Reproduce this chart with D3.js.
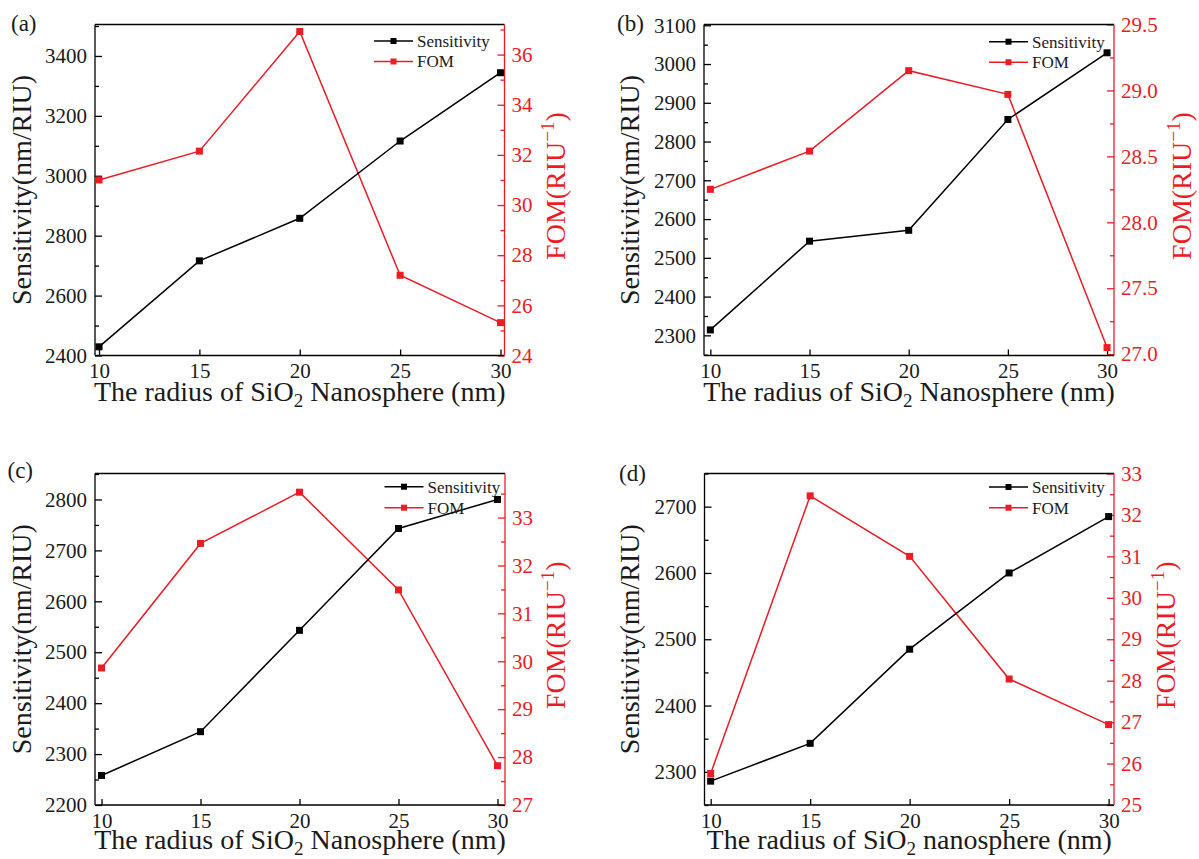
<!DOCTYPE html>
<html>
<head>
<meta charset="utf-8">
<script src="https://cdn.jsdelivr.net/npm/d3@7"></script>
<style>
  html, body { margin: 0; padding: 0; background: #fff; }
  svg { display: block; }
  text { font-family: "Liberation Serif", "Times New Roman", serif; }
</style>
</head>
<body>
<svg id="chart" width="1199" height="859"></svg>
<script>
// ---------- data ----------
const radius = [10, 15, 20, 25, 30];
const xTicks = [10, 15, 20, 25, 30];

const sensA = [2429, 2716, 2858, 3116, 3344];
const fomA  = [31.0, 32.15, 36.92, 27.2, 25.31];
const sensB = [2314, 2543, 2571, 2857, 3029];
const fomB  = [28.25, 28.54, 29.15, 28.97, 27.05];
const sensC = [2258, 2344, 2543, 2743, 2800];
const fomC  = [29.86, 32.46, 33.53, 31.49, 27.82];
const sensD = [2286, 2343, 2485, 2600, 2685];
const fomD  = [25.76, 32.46, 31.0, 28.04, 26.94];

const sensTicksA = [2400, 2600, 2800, 3000, 3200, 3400];
const fomTicksA  = [24, 26, 28, 30, 32, 34, 36];
const sensTicksB = [2300, 2400, 2500, 2600, 2700, 2800, 2900, 3000, 3100];
const fomTicksB  = [27.0, 27.5, 28.0, 28.5, 29.0, 29.5];
const sensTicksC = [2200, 2300, 2400, 2500, 2600, 2700, 2800];
const fomTicksC  = [27, 28, 29, 30, 31, 32, 33];
const sensTicksD = [2300, 2400, 2500, 2600, 2700];
const fomTicksD  = [25, 26, 27, 28, 29, 30, 31, 32, 33];

const panelLabels = ["(a)", "(b)", "(c)", "(d)"];
const seriesNames = ["Sensitivity", "FOM"];
const yTitleLeft = "Sensitivity(nm/RIU)";
const xTitleWords = [["The radius of SiO", "2", " Nanosphere (nm)"],
                     ["The radius of SiO", "2", " Nanosphere (nm)"],
                     ["The radius of SiO", "2", " Nanosphere (nm)"],
                     ["The radius of SiO", "2", " nanosphere (nm)"]];

// ---------- layout / style ----------
const RED = "#ec1c24";
const BLACK = "#000";
const TXT = "#1a1a1a";
const FONT = "Liberation Serif";

const panels = [
  { box: {l: 95,  r: 504.5, t: 24.5,  b: 355.5}, xDom: [9.8, 30.2],
    sens: sensA, fom: fomA, sDom: [2400, 3505], fDom: [24, 37.2],
    sTicks: sensTicksA, sStep: 100, fTicks: fomTicksA, fStep: 1, fFmt: d3.format("d"),
    leg: {x: 374, y: 41, len: 39, gap: 20.5}, lbl: {x: 11, y: 31},
    lt: 22, rt: 556, xt: 401 },
  { box: {l: 704, r: 1114, t: 24.5,  b: 355.5}, xDom: [9.68, 30.35],
    sens: sensB, fom: fomB, sDom: [2248, 3102], fDom: [26.99, 29.5],
    sTicks: sensTicksB, sStep: 50, fTicks: fomTicksB, fStep: 0.25, fFmt: d3.format(".1f"),
    leg: {x: 989, y: 41.7, len: 39, gap: 20.5}, lbl: {x: 617, y: 31},
    lt: 630, rt: 1182, xt: 401 },
  { box: {l: 95,  r: 505, t: 473.5, b: 805}, xDom: [9.67, 30.38],
    sens: sensC, fom: fomC, sDom: [2200, 2851], fDom: [27, 33.92],
    sTicks: sensTicksC, sStep: 50, fTicks: fomTicksC, fStep: 0.5, fFmt: d3.format("d"),
    leg: {x: 384.5, y: 486.7, len: 39, gap: 21}, lbl: {x: 7.5, y: 478},
    lt: 22, rt: 556, xt: 849 },
  { box: {l: 704.5, r: 1114, t: 473.5, b: 805}, xDom: [9.69, 30.27],
    sens: sensD, fom: fomD, sDom: [2250, 2750], fDom: [25, 33],
    sTicks: sensTicksD, sStep: 50, fTicks: fomTicksD, fStep: 0.5, fFmt: d3.format("d"),
    leg: {x: 989, y: 487, len: 39, gap: 20.7}, lbl: {x: 619, y: 481},
    lt: 630, rt: 1166, xt: 849 }
];

const svg = d3.select("#chart");

function minorValues(dom, step, majors) {
  const out = [];
  const start = Math.ceil(dom[0] / step - 1e-9) * step;
  for (let v = start; v <= dom[1] + 1e-9; v += step) {
    const vv = +v.toFixed(6);
    if (!majors.some(m => Math.abs(m - vv) < 1e-6)) out.push(vv);
  }
  return out;
}

function styleAxis(sel, color, fill) {
  sel.attr("font-family", FONT).attr("font-size", 21);
  sel.select(".domain").remove();
  sel.selectAll(".tick line").attr("stroke", color).attr("stroke-width", 1.3);
  sel.selectAll("text").attr("font-size", 21).attr("fill", fill).attr("font-family", FONT);
}

panels.forEach((p, i) => {
  const {box} = p;
  const g = svg.append("g");
  const x = d3.scaleLinear().domain(p.xDom).range([box.l, box.r]);
  const yS = d3.scaleLinear().domain(p.sDom).range([box.b, box.t]);
  const yF = d3.scaleLinear().domain(p.fDom).range([box.b, box.t]);

  // bottom axis (ticks inward)
  const ax = g.append("g").attr("transform", `translate(0,${box.b})`)
    .call(d3.axisBottom(x).tickValues(xTicks).tickSize(-6).tickSizeOuter(0).tickPadding(8).tickFormat(d3.format("d")));
  styleAxis(ax, BLACK, TXT);

  // left axis
  const al = g.append("g").attr("transform", `translate(${box.l},0)`)
    .call(d3.axisLeft(yS).tickValues(p.sTicks).tickSize(-7).tickSizeOuter(0).tickPadding(8).tickFormat(d3.format("d")));
  styleAxis(al, BLACK, TXT);
  const alm = g.append("g").attr("transform", `translate(${box.l},0)`)
    .call(d3.axisLeft(yS).tickValues(minorValues(p.sDom, p.sStep, p.sTicks)).tickSize(-4).tickFormat(""));
  styleAxis(alm, BLACK, TXT);

  // right axis (red)
  const ar = g.append("g").attr("transform", `translate(${box.r},0)`)
    .call(d3.axisRight(yF).tickValues(p.fTicks).tickSize(-7).tickSizeOuter(0).tickPadding(7).tickFormat(p.fFmt));
  styleAxis(ar, RED, RED);
  const arm = g.append("g").attr("transform", `translate(${box.r},0)`)
    .call(d3.axisRight(yF).tickValues(minorValues(p.fDom, p.fStep, p.fTicks)).tickSize(-4).tickFormat(""));
  styleAxis(arm, RED, RED);

  // frame
  g.append("line").attr("x1", box.l).attr("x2", box.r).attr("y1", box.t).attr("y2", box.t)
    .attr("stroke", BLACK).attr("stroke-width", 1.3);
  g.append("line").attr("x1", box.l).attr("x2", box.r).attr("y1", box.b).attr("y2", box.b)
    .attr("stroke", BLACK).attr("stroke-width", 1.3);
  g.append("line").attr("x1", box.l).attr("x2", box.l).attr("y1", box.t).attr("y2", box.b)
    .attr("stroke", BLACK).attr("stroke-width", 1.3);
  g.append("line").attr("x1", box.r).attr("x2", box.r).attr("y1", box.t).attr("y2", box.b)
    .attr("stroke", RED).attr("stroke-width", 1.3);

  // series
  const series = [
    {vals: p.fom, y: yF, color: RED},
    {vals: p.sens, y: yS, color: BLACK}
  ];
  series.forEach(s => {
    const line = d3.line().x((d, j) => x(radius[j])).y(d => s.y(d));
    g.append("path").datum(s.vals).attr("d", line)
      .attr("fill", "none").attr("stroke", s.color).attr("stroke-width", 1.5);
    g.selectAll(null).data(s.vals).enter().append("rect")
      .attr("x", (d, j) => x(radius[j]) - 3.5).attr("y", d => s.y(d) - 3.5)
      .attr("width", 7).attr("height", 7).attr("fill", s.color);
  });

  // legend
  [BLACK, RED].forEach((c, k) => {
    const ly = p.leg.y + k * p.leg.gap;
    g.append("line").attr("x1", p.leg.x).attr("x2", p.leg.x + p.leg.len)
      .attr("y1", ly).attr("y2", ly).attr("stroke", c).attr("stroke-width", 1.5);
    g.append("rect").attr("x", p.leg.x + p.leg.len / 2 - 3).attr("y", ly - 3)
      .attr("width", 6).attr("height", 6).attr("fill", c);
    g.append("text").attr("x", p.leg.x + p.leg.len + 4).attr("y", ly).attr("dy", "0.35em")
      .attr("font-size", 17).attr("fill", TXT).text(seriesNames[k]);
  });

  // panel label
  g.append("text").attr("x", p.lbl.x).attr("y", p.lbl.y)
    .attr("font-size", 23).attr("fill", TXT).text(panelLabels[i]);

  // left title
  const cyL = (box.t + box.b) / 2;
  g.append("text").attr("transform", `translate(${p.lt},${cyL}) rotate(-90)`)
    .attr("text-anchor", "middle").attr("dy", "0.33em")
    .attr("font-size", 28).attr("fill", TXT).text(yTitleLeft);

  // right title
  const cyR = cyL - 4;
  const rt = g.append("text").attr("transform", `translate(${p.rt},${cyR}) rotate(-90)`)
    .attr("text-anchor", "middle").attr("dy", "0.33em")
    .attr("font-size", 28).attr("fill", RED);
  rt.append("tspan").text("FOM(RIU");
  rt.append("tspan").attr("font-size", 19).attr("dy", -11).text("\u22121");
  rt.append("tspan").attr("dy", 11).text(")");

  // x title
  const xt = g.append("text").attr("x", (box.l + box.r) / 2).attr("y", p.xt)
    .attr("text-anchor", "middle").attr("font-size", 28).attr("fill", TXT);
  const w = xTitleWords[i];
  xt.append("tspan").text(w[0]);
  xt.append("tspan").attr("font-size", 19).attr("dy", 6).text(w[1]);
  xt.append("tspan").attr("dy", -6).text(w[2]);
});
</script>
</body>
</html>
